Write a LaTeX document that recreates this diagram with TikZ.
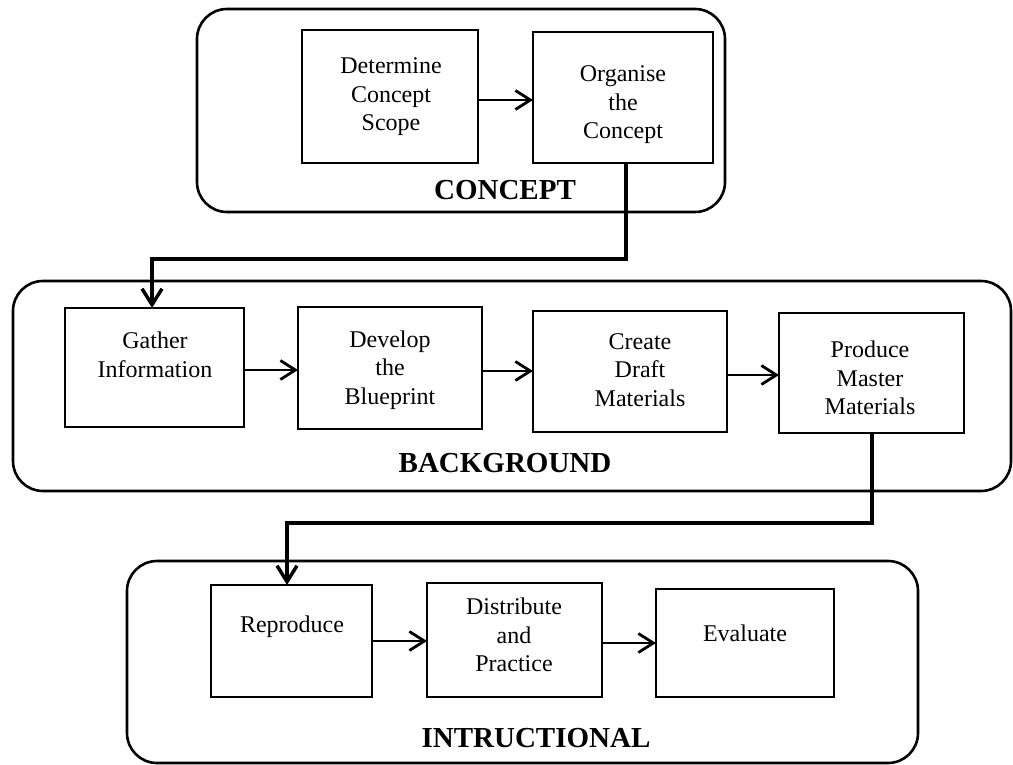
\documentclass[tikz,border=0pt]{standalone}
\usepackage{fontspec}
\setmainfont{Liberation Serif}
\usetikzlibrary{arrows.meta}

\begin{document}
\begin{tikzpicture}[x=1bp,y=-1bp,
  stage/.style={draw, line width=2.6bp, rounded corners=30bp, inner sep=0pt, outer sep=0pt},
  stepbox/.style={draw, line width=2.8bp, inner sep=0pt, outer sep=0pt},
  steptext/.style={align=center, inner sep=0pt, font=\fontsize{24bp}{28.5bp}\selectfont},
  stagelabel/.style={inner sep=0pt, font=\fontsize{29bp}{34bp}\selectfont\bfseries},
  flow/.style={line width=2.8bp, -{Straight Barb[length=15bp,width=19bp,line width=2.8bp]}},
  link/.style={line width=4bp, line join=miter, -{Straight Barb[length=16bp,width=20bp,line width=3.5bp]}}
]
\useasboundingbox (0,0) rectangle (1013,765);

% stage frames
\node[stage, minimum width=528bp, minimum height=203bp] (concept) at (461,110.5) {};
\node[stage, minimum width=998bp, minimum height=210bp] (background) at (512,386) {};
\node[stage, minimum width=791bp, minimum height=202bp] (instr) at (522.5,662) {};

\node[stagelabel] (conceptlbl) at (505,190) {CONCEPT};
\node[stagelabel] (backgroundlbl) at (505,463) {BACKGROUND};
\node[stagelabel] (instrlbl) at (536,738) {INTRUCTIONAL};

% concept steps
\node[stepbox, minimum width=176bp, minimum height=133bp] (determine) at (390,96.5) {};
\node[steptext] (determinetxt) at (391,97) {Determine\\Concept\\Scope};
\node[stepbox, minimum width=180bp, minimum height=131bp] (organise) at (623,97.5) {};
\node[steptext] (organisetxt) at (623,105) {Organise\\the\\Concept};

% background steps
\node[stepbox, minimum width=179bp, minimum height=119bp] (gather) at (154.5,367.5) {};
\node[steptext] (gathertxt) at (155,355) {Gather\\Information};
\node[stepbox, minimum width=184bp, minimum height=122bp] (develop) at (390,368) {};
\node[steptext] (developtxt) at (390,370) {Develop\\the\\Blueprint};
\node[stepbox, minimum width=194bp, minimum height=121bp] (create) at (630,371.5) {};
\node[steptext] (createtxt) at (640,370) {Create\\Draft\\Materials};
\node[stepbox, minimum width=185bp, minimum height=120bp] (produce) at (871.5,373) {};
\node[steptext] (producetxt) at (870,378) {Produce\\Master\\Materials};

% instructional steps
\node[stepbox, minimum width=161bp, minimum height=112bp] (reproduce) at (291.5,641) {};
\node[steptext] (reproducetxt) at (292,627) {Reproduce};
\node[stepbox, minimum width=175bp, minimum height=114bp] (distribute) at (514.5,640) {};
\node[steptext] (distributetxt) at (514,635) {Distribute\\and\\Practice};
\node[stepbox, minimum width=178bp, minimum height=108bp] (evaluate) at (745,643) {};
\node[steptext] (evaluatetxt) at (745,633) {Evaluate};

% arrows inside each stage
\draw[flow] (determine.east |- 0,100) -- (organise.west |- 0,100);
\draw[flow] (gather.east |- 0,370) -- (develop.west |- 0,370);
\draw[flow] (develop.east |- 0,371) -- (create.west |- 0,371);
\draw[flow] (create.east |- 0,375) -- (produce.west |- 0,375);
\draw[flow] (reproduce.east |- 0,641) -- (distribute.west |- 0,641);
\draw[flow] (distribute.east |- 0,643) -- (evaluate.west |- 0,643);

% links between stages
\coordinate (bendA) at (0,259);
\coordinate (bendB) at (0,523);
\draw[link] ([xshift=3bp]organise.south) -- ([xshift=3bp]organise.south |- bendA)
  -| ([xshift=-2.5bp]gather.north);
\draw[link] ([xshift=0.5bp]produce.south) -- ([xshift=0.5bp]produce.south |- bendB)
  -| ([xshift=-4.5bp]reproduce.north);
\end{tikzpicture}
\end{document}
